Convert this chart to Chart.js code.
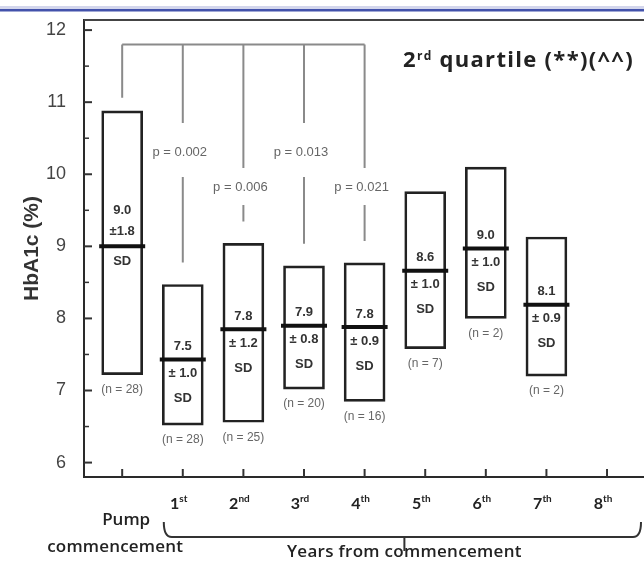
<!DOCTYPE html>
<html>
<head>
<meta charset="utf-8">
<script src="https://cdn.jsdelivr.net/npm/chart.js@4.4.0/dist/chart.umd.min.js"></script>
<style>
  html, body { margin: 0; padding: 0; background: #fff; }
  canvas { display: block; }
</style>
</head>
<body>
<canvas id="chart" width="644" height="564"></canvas>
<script>
// categories on the x axis
const categories = ['Pump commencement', '1st', '2nd', '3rd', '4th', '5th', '6th', '7th', '8th'];
// mean HbA1c and the box ends (mean - SD, mean + SD) as drawn
const meanValues = [9.0, 7.43, 7.85, 7.9, 7.88, 8.66, 8.97, 8.19];
const lowValues = [7.22, 6.52, 6.56, 7.02, 6.85, 7.58, 8.0, 7.2];
const highValues = [10.88, 8.47, 9.04, 8.73, 8.77, 9.76, 10.1, 9.13];
// printed labels
const meanLabels = ['9.0', '7.5', '7.8', '7.9', '7.8', '8.6', '9.0', '8.1'];
const sdLabels = ['1.8', '1.0', '1.2', '0.8', '0.9', '1.0', '1.0', '0.9'];
const nCounts = [28, 28, 25, 20, 16, 7, 2, 2];
// pump commencement vs years 1..4
const pValues = ['0.002', '0.006', '0.013', '0.021'];
const yTicks = [6, 7, 8, 9, 10, 11, 12];

const ink = '#222';

function supText(ctx, base, sup, rest, x, y, baseFont, supFont, align, spacing) {
    ctx.letterSpacing = (spacing || 0) + 'px';
    ctx.font = baseFont;
    const wb = ctx.measureText(base).width;
    const wr = rest ? ctx.measureText(rest).width : 0;
    ctx.font = supFont;
    const ws = ctx.measureText(sup).width;
    const total = wb + ws + wr;
    let sx = align === 'center' ? x - total / 2 : x;
    ctx.textAlign = 'left';
    ctx.textBaseline = 'alphabetic';
    ctx.font = baseFont;
    ctx.fillText(base, sx, y);
    ctx.font = supFont;
    ctx.fillText(sup, sx + wb, y - 7);
    if (rest) {
        ctx.font = baseFont;
        ctx.fillText(rest, sx + wb + ws, y);
    }
    ctx.letterSpacing = '0px';
}

const decorPlugin = {
    id: 'decor',
    afterDraw(chart) {
        const ctx = chart.ctx;
        const xs = chart.scales.x;
        const ys = chart.scales.y;
        const area = chart.chartArea;
        ctx.save();

        // blue rule at the very top
        ctx.fillStyle = '#d3d6ec';
        ctx.fillRect(0, 6, chart.width, 3);
        ctx.fillStyle = '#4352ab';
        ctx.fillRect(0, 9, chart.width, 2.5);

        // top frame line
        ctx.strokeStyle = '#444';
        ctx.lineWidth = 2;
        ctx.beginPath();
        ctx.moveTo(area.left, area.top);
        ctx.lineTo(area.right, area.top);
        ctx.stroke();

        // inward y ticks (major + half steps)
        ctx.strokeStyle = '#333';
        yTicks.forEach((v, i) => {
            const py = ys.getPixelForValue(v);
            ctx.lineWidth = 2;
            ctx.beginPath();
            ctx.moveTo(area.left, py);
            ctx.lineTo(area.left + 8, py);
            ctx.stroke();
            if (i < yTicks.length - 1) {
                const pm = ys.getPixelForValue(v + 0.5);
                ctx.lineWidth = 1.5;
                ctx.beginPath();
                ctx.moveTo(area.left, pm);
                ctx.lineTo(area.left + 5, pm);
                ctx.stroke();
            }
        });

        // inward x ticks
        ctx.lineWidth = 2;
        categories.forEach((c, i) => {
            const px = xs.getPixelForValue(i);
            ctx.beginPath();
            ctx.moveTo(px, area.bottom);
            ctx.lineTo(px, area.bottom - 8);
            ctx.stroke();
        });

        // x labels
        ctx.fillStyle = ink;
        categories.forEach((c, i) => {
            const px = xs.getPixelForValue(i);
            const m = c.match(/^(\d+)(\D+)$/);
            if (m) {
                supText(ctx, m[1], m[2], '', px - 4, 509, 'bold 16px Lato', 'bold 10px Lato', 'center');
            } else {
                const words = c.split(' ');
                ctx.font = '600 17px "Open Sans"';
                ctx.textAlign = 'center';
                ctx.textBaseline = 'middle';
                ctx.fillText(words[0], px + 4, 520);
                ctx.letterSpacing = '0.2px';
                ctx.fillText(words[1], px - 7, 547);
                ctx.letterSpacing = '0px';
            }
        });

        // bracket under years 1..8
        const bl = xs.getPixelForValue(1) - 19;
        const br = chart.width - 3;
        const by = 537;
        ctx.strokeStyle = '#333';
        ctx.lineWidth = 2;
        ctx.beginPath();
        ctx.moveTo(bl, 522);
        ctx.quadraticCurveTo(bl, by, bl + 8, by);
        ctx.lineTo(br - 8, by);
        ctx.quadraticCurveTo(br, by, br, 522);
        ctx.stroke();
        const bm = (bl + br) / 2 + 2;
        ctx.beginPath();
        ctx.moveTo(bm, by);
        ctx.lineTo(bm, 551);
        ctx.stroke();
        ctx.fillStyle = ink;
        ctx.font = '600 17px "Open Sans"';
        ctx.letterSpacing = '0.3px';
        ctx.textAlign = 'center';
        ctx.textBaseline = 'middle';
        ctx.fillText('Years from commencement', bm, 552);
        ctx.letterSpacing = '0px';

        // labels inside boxes and n under boxes
        meanValues.forEach((mv, i) => {
            const px = xs.getPixelForValue(i);
            const py = ys.getPixelForValue(mv);
            ctx.fillStyle = '#333';
            ctx.font = 'bold 13px "Liberation Sans"';
            ctx.textAlign = 'center';
            ctx.textBaseline = 'middle';
            if (i === 0) {
                ctx.fillText(meanLabels[i], px, py - 36);
                ctx.fillText('\u00b1' + sdLabels[i], px, py - 15);
                ctx.fillText('SD', px, py + 15);
            } else {
                ctx.fillText(meanLabels[i], px, py - 13);
                ctx.fillText('\u00b1 ' + sdLabels[i], px, py + 14);
                ctx.fillText('SD', px, py + 39);
            }
            ctx.fillStyle = '#666';
            ctx.font = '12px "Liberation Sans"';
            ctx.fillText('(n = ' + nCounts[i] + ')', px, ys.getPixelForValue(lowValues[i]) + 15);
        });

        // comparison bracket pump vs years 1..4
        const topY = ys.getPixelForValue(11.8);
        const x0 = xs.getPixelForValue(0);
        const x4 = xs.getPixelForValue(pValues.length);
        ctx.strokeStyle = '#8a8a8a';
        ctx.lineWidth = 2;
        ctx.beginPath();
        ctx.moveTo(x0, topY);
        ctx.lineTo(x4, topY);
        ctx.moveTo(x0, topY);
        ctx.lineTo(x0, ys.getPixelForValue(highValues[0]) - 13);
        ctx.stroke();
        ctx.font = '13px "Liberation Sans"';
        ctx.fillStyle = '#666';
        pValues.forEach((p, k) => {
            const i = k + 1;
            const px = xs.getPixelForValue(i);
            const ty = k % 2 === 0 ? 152 : 187;
            const end = ys.getPixelForValue(highValues[i]) - 22;
            ctx.beginPath();
            ctx.moveTo(px, topY);
            ctx.lineTo(px, ty - (k % 2 === 0 ? 29 : 19));
            ctx.moveTo(px, ty + (k % 2 === 0 ? 25 : 18));
            ctx.lineTo(px, end);
            ctx.stroke();
            ctx.fillText('p = ' + p, px - 3, ty);
        });

        // panel title
        ctx.fillStyle = ink;
        supText(ctx, '2', 'rd', ' quartile (**)(^^)', 403, 67, 'bold 22px "Open Sans"', 'bold 12px "Open Sans"', 'left', 1.3);

        ctx.restore();
    }
};

new Chart(document.getElementById('chart'), {
    type: 'bar',
    data: {
        datasets: [
            {
                type: 'line',
                label: 'Mean',
                data: meanValues.map((v, i) => ({ x: i, y: v })),
                showLine: false,
                pointStyle: 'line',
                pointRadius: 23,
                pointBorderWidth: 4,
                pointBorderColor: '#111',
                order: 0
            },
            {
                label: 'Mean \u00b1 SD',
                data: lowValues.map((v, i) => ({ x: i, y: [v, highValues[i]] })),
                backgroundColor: 'rgba(255,255,255,0)',
                borderColor: ink,
                borderWidth: 2,
                borderSkipped: false,
                barThickness: 41,
                order: 1
            }
        ]
    },
    options: {
        responsive: false,
        animation: false,
        layout: { autoPadding: false, padding: { top: 20, right: 0, left: 0, bottom: 0 } },
        plugins: {
            legend: { display: false },
            tooltip: { enabled: false }
        },
        scales: {
            x: {
                type: 'linear',
                offset: false,
                min: -0.63,
                max: 8.61,
                afterBuildTicks: s => { s.ticks = categories.map((c, i) => ({ value: i })); },
                afterFit: s => { s.height = 87; s.paddingLeft = 0; s.paddingRight = 0; },
                ticks: { display: false },
                grid: { display: false },
                border: { display: true, color: '#2a2a2a', width: 2 }
            },
            y: {
                min: 5.8,
                max: 12.14,
                afterBuildTicks: s => { s.ticks = yTicks.map(v => ({ value: v })); },
                afterFit: s => { s.width = 84; s.paddingTop = 0; s.paddingBottom = 0; },
                ticks: {
                    color: '#444',
                    padding: 10,
                    font: { family: '"Liberation Sans"', size: 18 }
                },
                grid: { display: false },
                border: { display: true, color: '#2a2a2a', width: 2 },
                title: {
                    display: true,
                    text: 'HbA1c (%)',
                    color: '#333',
                    font: { family: '"Liberation Sans"', size: 21, weight: 'bold' },
                    padding: { top: 20, bottom: 0 }
                }
            }
        }
    },
    plugins: [decorPlugin]
});
</script>
</body>
</html>
